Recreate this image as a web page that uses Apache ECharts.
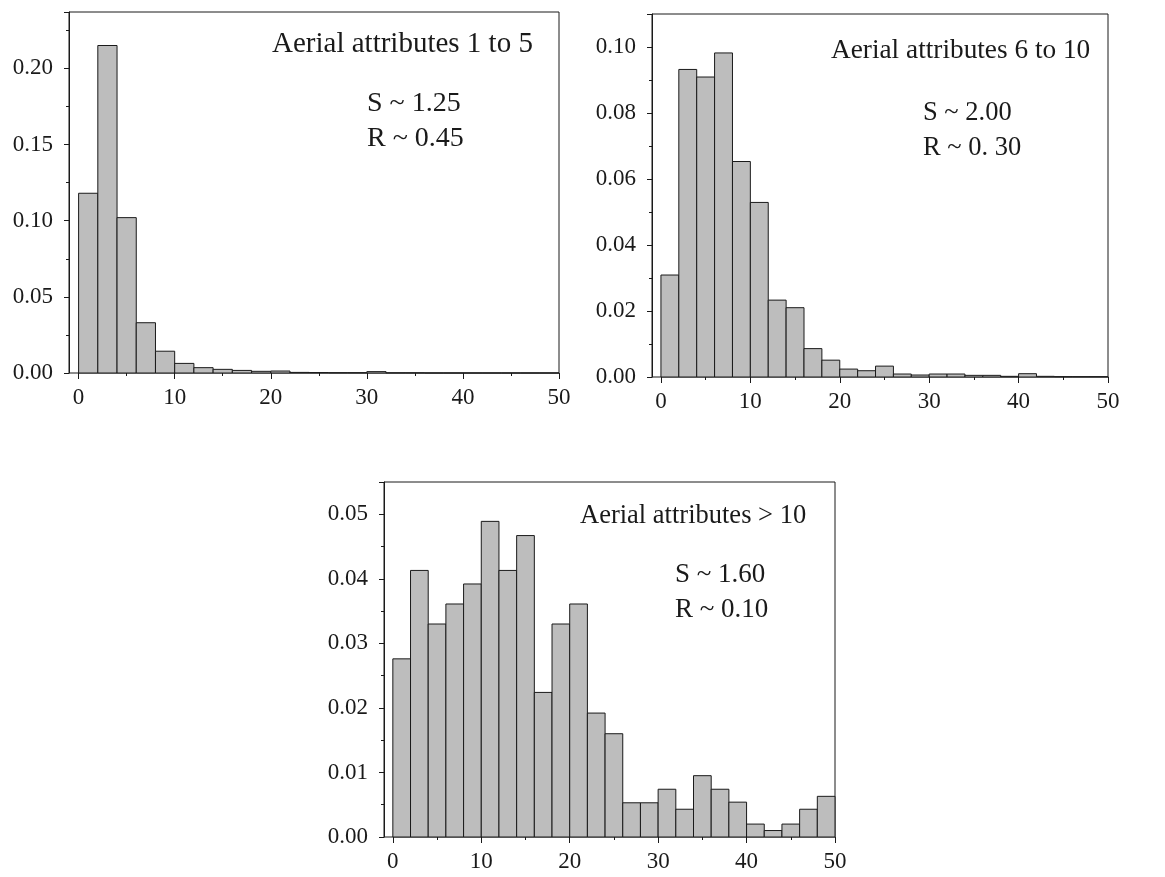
<!DOCTYPE html>
<html>
<head>
<meta charset="utf-8">
<script src="https://cdn.jsdelivr.net/npm/echarts@6/dist/echarts.min.js"></script>
<style>
  html, body { margin: 0; padding: 0; background: #fff; }
  #chart { width: 1165px; height: 877px; }
</style>
</head>
<body>
<div id="chart"></div>
<script>
// bin edges (width 2) shared by all three histograms
const binStarts = [0, 2, 4, 6, 8, 10, 12, 14, 16, 18, 20, 22, 24, 26, 28, 30, 32, 34, 36, 38, 40, 42, 44, 46, 48]
const binWidth = 2

const attr1to5 = [0.118, 0.215, 0.102, 0.033, 0.0143, 0.0063, 0.0035, 0.0024, 0.0017, 0.0011, 0.0013, 0.0004, 0.0003, 0.0002, 0.0002, 0.0009, 0.0001, 0.0001, 0, 0, 0, 0, 0, 0, 0]
const attr6to10 = [0.0309, 0.0932, 0.0909, 0.0982, 0.0653, 0.0529, 0.0233, 0.021, 0.0086, 0.0051, 0.0024, 0.0019, 0.0033, 0.0009, 0.0006, 0.0009, 0.0009, 0.0005, 0.0005, 0.0002, 0.001, 0.0002, 0.0001, 0.0001, 0.0001]
const attrOver10 = [0.0276, 0.0413, 0.033, 0.0361, 0.0392, 0.0489, 0.0413, 0.0467, 0.0224, 0.033, 0.0361, 0.0192, 0.016, 0.0053, 0.0053, 0.0074, 0.0043, 0.0095, 0.0074, 0.0054, 0.002, 0.001, 0.002, 0.0043, 0.0063]

const xMajorTicks = [0, 10, 20, 30, 40, 50]
const xMinorTicks = [5, 15, 25, 35, 45]
const yMax = [0.237, 0.11, 0.055]
const yInterval = [0.05, 0.02, 0.01]

const font = 'Liberation Serif'
const ink = '#1a1a1a'

const grids = [
  { left: 69, top: 12, width: 490, height: 361 },
  { left: 652, top: 14, width: 456, height: 363 },
  { left: 384, top: 482, width: 451, height: 355 }
]

const toBins = (vals) => binStarts.map((s, i) => [s, s + binWidth, vals[i]])

const renderBar = (params, api) => {
  const p0 = api.coord([api.value(0), api.value(2)])
  const p1 = api.coord([api.value(1), 0])
  return {
    type: 'rect',
    shape: { x: p0[0], y: p0[1], width: p1[0] - p0[0], height: p1[1] - p0[1] },
    style: { fill: '#bdbdbd', stroke: ink, lineWidth: 1 }
  }
}

const xAxes = []
const yAxes = []
grids.forEach((g, i) => {
  xAxes.push({
    type: 'value', gridIndex: i, min: -1, max: 50,
    splitLine: { show: false },
    axisLine: { show: false },
    axisTick: { customValues: xMajorTicks, length: 6, lineStyle: { color: ink } },
    axisLabel: { customValues: xMajorTicks, fontFamily: font, fontSize: 23, color: ink, margin: 13 }
  })
  xAxes.push({
    type: 'value', gridIndex: i, min: -1, max: 50, position: 'bottom',
    splitLine: { show: false },
    axisLine: { show: false },
    axisTick: { customValues: xMinorTicks, length: 3, lineStyle: { color: ink } },
    axisLabel: { show: false }
  })
  yAxes.push({
    type: 'value', gridIndex: i, min: 0, max: yMax[i], interval: yInterval[i],
    splitLine: { show: false },
    axisLine: { show: true, onZero: false, lineStyle: { color: ink } },
    axisTick: { show: true, length: 5, lineStyle: { color: ink } },
    minorTick: { show: true, splitNumber: 2, length: 3, lineStyle: { color: ink } },
    axisLabel: {
      fontFamily: font, fontSize: 23, color: ink, margin: 16,
      showMaxLabel: false,
      formatter: (v) => v.toFixed(2)
    }
  })
})

const notes = [
  { text: 'Aerial attributes 1 to 5', x: 272, y: 44, size: 29 },
  { text: 'S ~ 1.25', x: 367, y: 104, size: 28 },
  { text: 'R ~ 0.45', x: 367, y: 139, size: 28 },
  { text: 'Aerial attributes 6 to 10', x: 831, y: 51, size: 27.3 },
  { text: 'S ~ 2.00', x: 923, y: 113, size: 26.5 },
  { text: 'R ~ 0. 30', x: 923, y: 148, size: 26.5 },
  { text: 'Aerial attributes > 10', x: 580, y: 516, size: 26.5 },
  { text: 'S ~ 1.60', x: 675, y: 575, size: 27 },
  { text: 'R ~ 0.10', x: 675, y: 610, size: 27 }
]

const chart = echarts.init(document.getElementById('chart'))
chart.setOption({
  backgroundColor: '#fff',
  animation: false,
  grid: grids.map(g => ({ ...g, show: true, borderColor: ink, borderWidth: 1, backgroundColor: 'transparent' })),
  xAxis: xAxes,
  yAxis: yAxes,
  series: [attr1to5, attr6to10, attrOver10].map((vals, i) => ({
    type: 'custom',
    xAxisIndex: i * 2,
    yAxisIndex: i,
    renderItem: renderBar,
    encode: { x: [0, 1], y: 2 },
    data: toBins(vals)
  })),
  graphic: notes.map(n => ({
    type: 'text',
    x: n.x,
    y: n.y,
    style: { text: n.text, fontFamily: font, fontSize: n.size, fill: ink, verticalAlign: 'middle' }
  }))
})
</script>
</body>
</html>
